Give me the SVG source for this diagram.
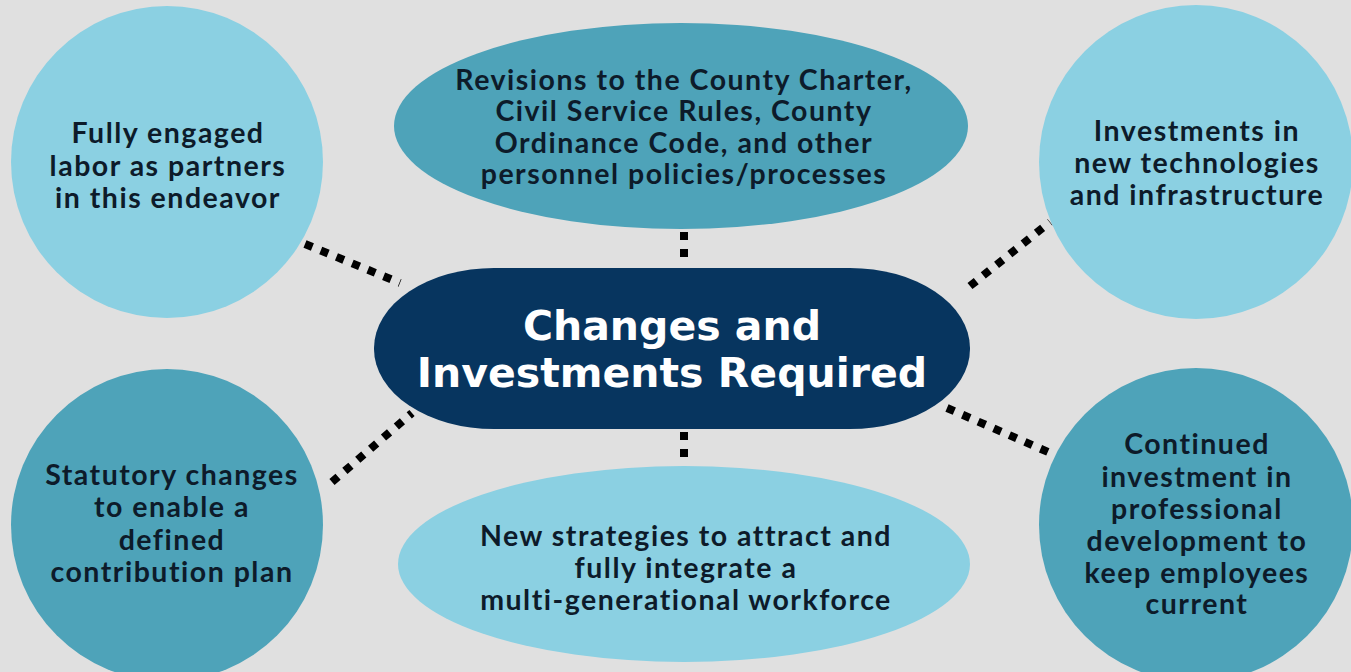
<svg xmlns="http://www.w3.org/2000/svg" width="1351" height="672" viewBox="0 0 1351 672">
<style>
.light{fill:#8bd0e2}
.teal{fill:#4ea3b9}
.navy{fill:#07355f}
.t{font-family:Lato,"Open Sans","Liberation Sans",sans-serif;font-weight:700;font-size:28.5px;letter-spacing:1.5px;fill:#0d1b2a;text-anchor:middle}
.c{font-family:"DejaVu Sans","Liberation Sans",sans-serif;font-weight:700;font-size:41px;fill:#ffffff;text-anchor:middle}
.dot{stroke:#000;stroke-width:8;stroke-dasharray:8 9;fill:none}
</style>
<rect width="1351" height="672" fill="#e0e0e0"/>
<g id="connectors">
<line class="dot" x1="305" y1="244" x2="400" y2="283"/>
<line class="dot" x1="684" y1="232" x2="684" y2="260"/>
<line class="dot" x1="970" y1="286" x2="1050" y2="222"/>
<line class="dot" x1="332" y1="482" x2="412" y2="413"/>
<line class="dot" x1="684" y1="432" x2="684" y2="460"/>
<line class="dot" x1="947" y1="408" x2="1048" y2="452"/>
</g>
<g id="n-labor">
<circle class="light" cx="167" cy="162" r="156"/>
<text class="t" x="168" y="143">Fully engaged</text>
<text class="t" x="168" y="176">labor as partners</text>
<text class="t" x="168" y="208">in this endeavor</text>
</g>
<g id="n-revisions">
<ellipse class="teal" cx="681" cy="126" rx="287" ry="103"/>
<text class="t" x="684" y="90">Revisions to the County Charter,</text>
<text class="t" x="684" y="121">Civil Service Rules, County</text>
<text class="t" x="684" y="153">Ordinance Code, and other</text>
<text class="t" x="684" y="184">personnel policies/processes</text>
</g>
<g id="n-tech">
<circle class="light" cx="1196" cy="162" r="157"/>
<text class="t" x="1197" y="141">Investments in</text>
<text class="t" x="1197" y="173">new technologies</text>
<text class="t" x="1197" y="205">and infrastructure</text>
</g>
<g id="n-statutory">
<circle class="teal" cx="167" cy="525" r="156"/>
<text class="t" x="172" y="485">Statutory changes</text>
<text class="t" x="172" y="517">to enable a</text>
<text class="t" x="172" y="550">defined</text>
<text class="t" x="172" y="582">contribution plan</text>
</g>
<g id="n-strategies">
<ellipse class="light" cx="684" cy="564" rx="286" ry="98"/>
<text class="t" x="686" y="546">New strategies to attract and</text>
<text class="t" x="686" y="578">fully integrate a</text>
<text class="t" x="686" y="610">multi-generational workforce</text>
</g>
<g id="n-development">
<circle class="teal" cx="1196" cy="525" r="157"/>
<text class="t" x="1197" y="454">Continued</text>
<text class="t" x="1197" y="487">investment in</text>
<text class="t" x="1197" y="519">professional</text>
<text class="t" x="1197" y="551">development to</text>
<text class="t" x="1197" y="583">keep employees</text>
<text class="t" x="1197" y="614">current</text>
</g>
<g id="n-center">
<rect class="navy" x="374" y="268" width="596" height="161" rx="120" ry="80"/>
<text class="c" x="672" y="340">Changes and</text>
<text class="c" x="672" y="387">Investments Required</text>
</g>
</svg>
